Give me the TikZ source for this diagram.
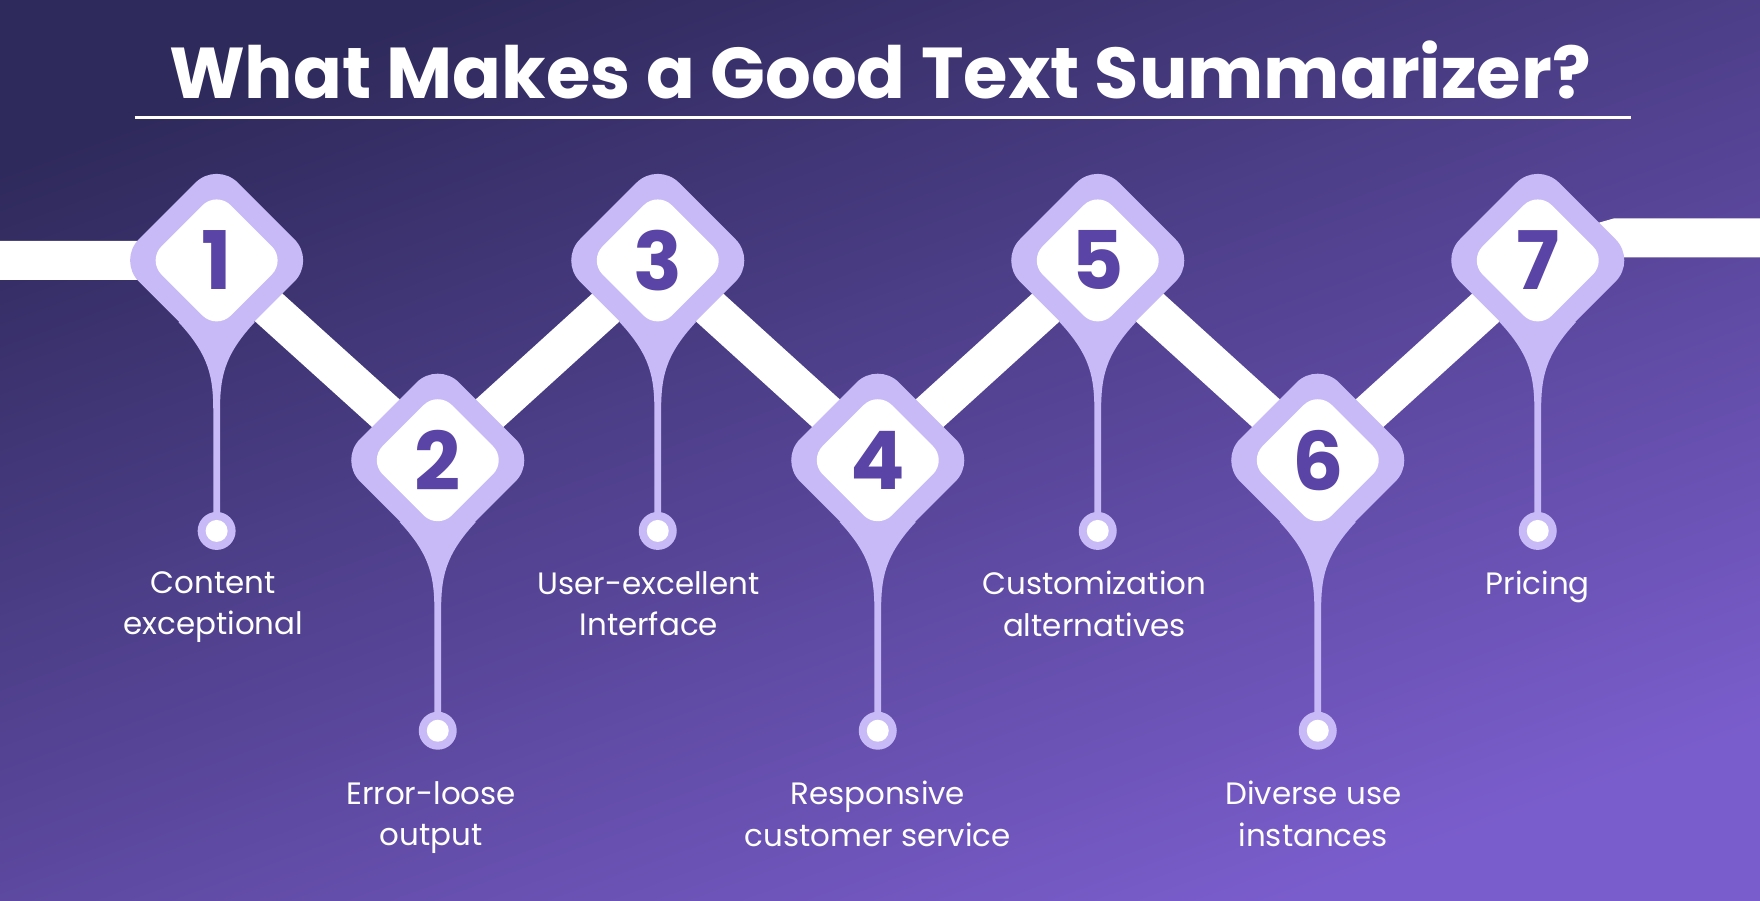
\documentclass[tikz,border=0pt]{standalone}
\usepackage{fontspec}
\setmainfont{Poppins}
\usetikzlibrary{positioning}
\definecolor{bgtop}{HTML}{2F2A5C}
\definecolor{bgbot}{HTML}{7A5DCC}
\definecolor{lav}{HTML}{C7BAF7}
\definecolor{numc}{HTML}{5A44A6}
\tikzset{
  band/.style={line width=0.39cm, white},
  outerdia/.style={draw=none, fill=lav, shape=rectangle, rotate=45, rounded corners=0.3cm, minimum size=1.4cm},
  innerdia/.style={draw=none, fill=white, shape=rectangle, rotate=45, rounded corners=0.2cm, minimum size=0.98cm},
  numtext/.style={text=numc, font=\fontsize{23}{26}\selectfont\bfseries},
  label/.style={text=white, align=center, font=\fontsize{8.8}{11.8}\selectfont, anchor=north}
}
\begin{document}
\begin{tikzpicture}[x=0.011224cm,y=-0.011224cm]
\shade[top color=bgtop, bottom color=bgbot, shading angle=20] (0,0) rectangle (1568,802);
\useasboundingbox (0,0) rectangle (1568,802);

% title
\node[text=white, font=\fontsize{20.5}{24}\selectfont\bfseries] (title) at (784,62) {What Makes a Good Text Summarizer?};
\draw[white, line width=0.9pt] (120,105) -- (1453,105);

% positions
\coordinate (c1) at (193,232);
\coordinate (c2) at (390,410);
\coordinate (c3) at (586,232);
\coordinate (c4) at (782,410);
\coordinate (c5) at (978,232);
\coordinate (c6) at (1174,410);
\coordinate (c7) at (1370,232);
\coordinate (lend) at (0,232);
\coordinate (rend) at (1568,212);

% zigzag band
\draw[band] (lend) -- (c1) -- (c2) -- (c3) -- (c4) -- (c5) -- (c6) -- (c7) -- (1440,212) -- (rend);

% markers
\foreach \n/\x/\y in {1/193/232,2/390/410,3/586/232,4/782/410,5/978/232,6/1174/410,7/1370/232}{
  \fill[lav] (\x-34,\y+55) .. controls (\x-6,\y+85) and (\x-3,\y+105) .. (\x-3,\y+135)
     -- (\x-3,\y+232) -- (\x+3,\y+232) -- (\x+3,\y+135)
     .. controls (\x+3,\y+105) and (\x+6,\y+85) .. (\x+34,\y+55) -- cycle;
  \fill[lav] (\x,\y+241) circle (0.19cm);
  \fill[white] (\x,\y+241) circle (0.11cm);
  \node[outerdia] (od\n) at (\x,\y) {};
  \node[innerdia] (id\n) at (\x,\y) {};
  \node[numtext] (num\n) at (\x,\y) {\n};
}

% labels
\node[label] (l1) at (190,498) {Content\\exceptional};
\node[label] (l2) at (384,685) {Error-loose\\output};
\node[label] (l3) at (578,498) {User-excellent\\Interface};
\node[label] (l4) at (782,685) {Responsive\\customer service};
\node[label] (l5) at (975,498) {Customization\\alternatives};
\node[label] (l6) at (1170,685) {Diverse use\\instances};
\node[label] (l7) at (1370,498) {Pricing};

\end{tikzpicture}
\end{document}
